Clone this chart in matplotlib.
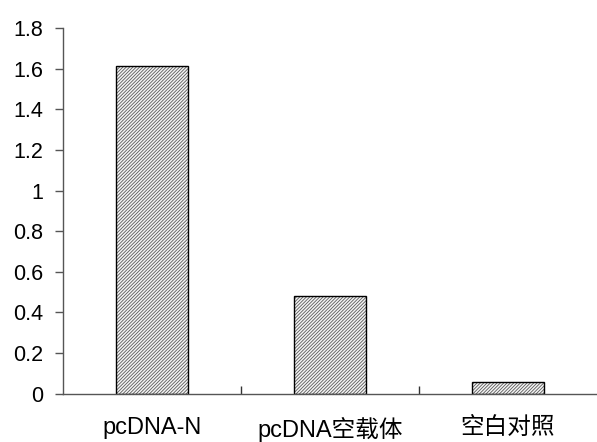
import matplotlib.pyplot as plt

plt.rcParams['font.family'] = ['Liberation Sans', 'Noto Sans CJK SC']
plt.rcParams['hatch.linewidth'] = 0.6

groups = ["pcDNA-N", "pcDNA空载体", "空白对照"]
values = [1.61, 0.48, 0.058]
yticks = [0, 0.2, 0.4, 0.6, 0.8, 1, 1.2, 1.4, 1.6, 1.8]

fig = plt.figure(figsize=(5.97, 4.42), dpi=100)
ax = fig.add_axes([0.1055, 0.109, 0.8945, 0.828])

pos = range(len(groups))
# hatched fill, then black outline on top
ax.bar(pos, values, width=0.4, color='#f4f4f4', edgecolor='#5a5a5a', hatch='//////////', linewidth=0)
ax.bar(pos, values, width=0.4, fill=False, edgecolor='black', linewidth=1)

ax.set_xlim(-0.5, 2.5)
ax.set_ylim(0, 1.8)
ax.set_yticks(yticks)
ax.set_yticklabels([f'{t:g}' for t in yticks], fontsize=15.5)

ax.set_xticks([0.5, 1.5], minor=False)
ax.set_xticklabels([])
ax.tick_params(axis='x', direction='in', length=6, width=1, color='#333333')
ax.set_xticks(list(pos), minor=True)
ax.set_xticklabels(groups, minor=True, fontsize=17)
ax.tick_params(axis='x', which='minor', length=0, pad=17)
ax.tick_params(axis='y', direction='out', length=6, width=1, color='#555555', pad=8)

for s in ['top', 'right']:
    ax.spines[s].set_visible(False)
for s in ['left', 'bottom']:
    ax.spines[s].set_color('#555555')
    ax.spines[s].set_linewidth(1)

fig.savefig('out.png', dpi=100)
